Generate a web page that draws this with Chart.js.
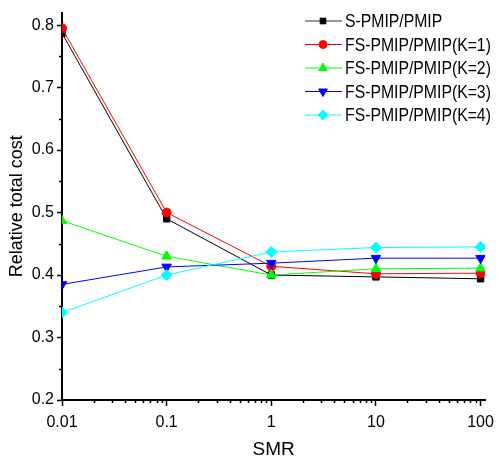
<!DOCTYPE html>
<html>
<head>
<meta charset="utf-8">
<script src="https://cdn.jsdelivr.net/npm/chart.js@4.4.0/dist/chart.umd.min.js"></script>
<style>
  html, body { margin: 0; padding: 0; background: #fff; }
  #wrap { width: 501px; height: 464px; }
</style>
</head>
<body>
<div id="wrap"><canvas id="c" width="501" height="464"></canvas></div>
<script>
// data
const smr   = [0.01, 0.1, 1, 10, 100];
const sPmip = [0.787, 0.490, 0.400, 0.397, 0.394];
const fsK1  = [0.795, 0.500, 0.414, 0.402, 0.403];
const fsK2  = [0.487, 0.430, 0.400, 0.410, 0.411];
const fsK3  = [0.385, 0.413, 0.419, 0.427, 0.427];
const fsK4  = [0.340, 0.400, 0.437, 0.444, 0.445];

const yTicks = [0.2, 0.3, 0.4, 0.5, 0.6, 0.7, 0.8];
const yMinor = [0.25, 0.35, 0.45, 0.55, 0.65, 0.75];
const xTicks = [0.01, 0.1, 1, 10, 100];
const xMinor = [0.02, 0.03, 0.04, 0.05, 0.06, 0.07, 0.08, 0.09,
                0.2, 0.3, 0.4, 0.5, 0.6, 0.7, 0.8, 0.9,
                2, 3, 4, 5, 6, 7, 8, 9,
                20, 30, 40, 50, 60, 70, 80, 90];

const FONT = "'Liberation Sans', Arial, sans-serif";
Chart.defaults.font.family = FONT;
Chart.defaults.color = '#000';

function pts(ys) { return smr.map((x, i) => ({ x, y: ys[i] })); }

function series(label, ys, color, style, rot, r, order) {
  return {
    label, data: pts(ys), order,
    borderColor: color, backgroundColor: color,
    pointBackgroundColor: color, pointBorderColor: color,
    borderWidth: 1, pointStyle: style, pointRotation: rot,
    pointRadius: r, pointBorderWidth: 1, tension: 0
  };
}

// small outward minor ticks
const minorTicks = {
  id: 'minorTicks',
  afterDraw(chart) {
    const ctx = chart.ctx, xs = chart.scales.x, ys = chart.scales.y;
    ctx.save();
    ctx.strokeStyle = '#000';
    ctx.lineWidth = 1.5;
    ctx.beginPath();
    yMinor.forEach(v => {
      const p = Math.round(ys.getPixelForValue(v)) + 0.5;
      ctx.moveTo(xs.left - 3, p); ctx.lineTo(xs.left, p);
    });
    xMinor.forEach(v => {
      const p = Math.round(xs.getPixelForValue(v)) + 0.5;
      ctx.moveTo(p, ys.bottom); ctx.lineTo(p, ys.bottom + 3);
    });
    ctx.stroke();
    ctx.restore();
  }
};

// legend box in the top right, line + marker + text (text a bit condensed like the original)
const legendBox = {
  id: 'legendBox',
  afterDraw(chart) {
    const ctx = chart.ctx;
    chart.data.datasets.forEach((ds, i) => {
      const y = 21 + i * 23.5;
      ctx.save();
      ctx.strokeStyle = i === 0 ? '#333' : ds.borderColor;
      ctx.lineWidth = 1;
      ctx.beginPath(); ctx.moveTo(305, y); ctx.lineTo(342, y); ctx.stroke();
      ctx.fillStyle = ds.pointBackgroundColor;
      ctx.strokeStyle = ds.pointBorderColor;
      Chart.helpers.drawPoint(ctx, {
        pointStyle: ds.pointStyle, rotation: ds.pointRotation,
        radius: ds.pointRadius - 0.5, borderWidth: 1
      }, 323, y);
      ctx.fillStyle = '#000';
      ctx.font = '19px ' + FONT;
      ctx.textBaseline = 'middle';
      ctx.translate(345, y + 1);
      ctx.scale(0.83, 1);
      ctx.fillText(ds.label, 0, 0);
      ctx.restore();
    });
  }
};

new Chart(document.getElementById('c'), {
  type: 'line',
  data: {
    datasets: [
      series('S-PMIP/PMIP',          sPmip, '#000000', 'rect',     0,   4.5, 4),
      series('FS-PMIP/PMIP(K=1)',    fsK1,  '#ff0000', 'circle',   0,   4.5, 3),
      series('FS-PMIP/PMIP(K=2)',    fsK2,  '#00ff00', 'triangle', 0,   5.5, 2),
      series('FS-PMIP/PMIP(K=3)',    fsK3,  '#0000ff', 'triangle', 180, 5.5, 1),
      series('FS-PMIP/PMIP(K=4)',    fsK4,  '#00ffff', 'rectRot',  0,   5.5, 0)
    ]
  },
  options: {
    responsive: false,
    animation: false,
    devicePixelRatio: 1,
    layout: { padding: { top: 4, right: 7, left: 0, bottom: 0 } },
    plugins: { legend: { display: false }, tooltip: { enabled: false } },
    scales: {
      x: {
        type: 'logarithmic',
        min: 0.01, max: 111,
        afterBuildTicks: s => { s.ticks = xTicks.map(v => ({ value: v })); },
        afterFit: s => { s.height = 64; },
        ticks: {
          autoSkip: false, maxRotation: 0, padding: 7,
          font: { size: 16 }, color: '#000',
          callback: v => String(v)
        },
        grid: { drawOnChartArea: false, drawTicks: true, tickLength: 6, tickWidth: 1.5, tickColor: '#000' },
        border: { display: true, color: '#000', width: 2 },
        title: { display: true, text: 'SMR', font: { size: 19 }, color: '#000', padding: { top: 0, bottom: 3 } }
      },
      y: {
        type: 'linear',
        min: 0.2, max: 0.82,
        afterBuildTicks: s => { s.ticks = yTicks.map(v => ({ value: v })); },
        afterFit: s => { s.width = 62; },
        ticks: {
          padding: 3, font: { size: 16 }, color: '#000',
          callback: v => v.toFixed(1)
        },
        grid: { drawOnChartArea: false, drawTicks: true, tickLength: 5, tickWidth: 1.5, tickColor: '#000' },
        border: { display: true, color: '#000', width: 2 },
        title: { display: true, text: 'Relative total cost', font: { size: 18 }, color: '#000', padding: { top: 6, bottom: 0 } }
      }
    }
  },
  plugins: [minorTicks, legendBox]
});
</script>
</body>
</html>
